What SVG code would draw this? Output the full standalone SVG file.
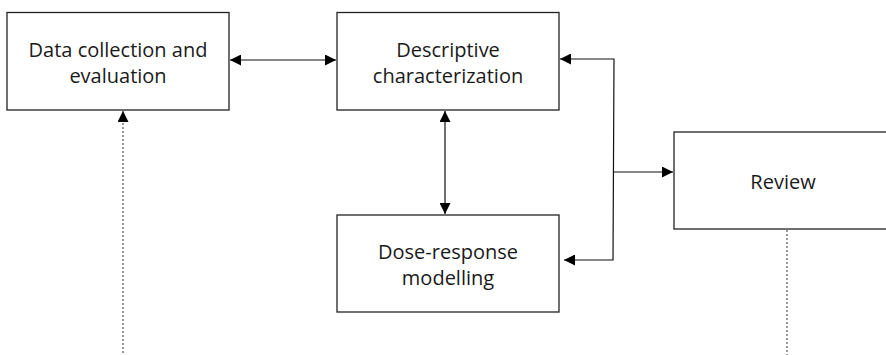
<svg xmlns="http://www.w3.org/2000/svg" width="886" height="355" viewBox="0 0 886 355">
<style>
.box{fill:#fff;stroke:#222;stroke-width:1.3}
.lbl{font-family:"Open Sans","Noto Sans",sans-serif;font-size:20px;fill:#1a1a1a;text-anchor:middle}
.con{fill:none;stroke:#111;stroke-width:1.2}
.dot{fill:none;stroke:#777;stroke-width:1.5;stroke-dasharray:2 2}
</style>
<defs>
<marker id="ah" viewBox="0 0 10 10" refX="10" refY="5" markerWidth="15" markerHeight="11" markerUnits="userSpaceOnUse" orient="auto-start-reverse">
<path d="M0,0 L10,5 L0,10 z" fill="#000"/>
</marker>
</defs>
<rect width="886" height="355" fill="#fff"/>
<g id="connectors">
<line class="con" x1="230" y1="60" x2="336" y2="60" marker-start="url(#ah)" marker-end="url(#ah)"/>
<line class="con" x1="445" y1="111" x2="445" y2="214" marker-start="url(#ah)" marker-end="url(#ah)"/>
<polyline class="con" points="560,59 614,59 613,260 564,260" marker-start="url(#ah)" marker-end="url(#ah)"/>
<line class="con" x1="614" y1="172" x2="673" y2="172" marker-end="url(#ah)"/>
<line class="dot" x1="123" y1="353" x2="123" y2="111" marker-end="url(#ah)"/>
<line class="dot" x1="787" y1="230" x2="787" y2="355"/>
</g>
<g id="data-collection">
<rect class="box" x="7" y="12.5" width="222" height="97.5"/>
<text class="lbl" x="118" y="57">Data collection and</text>
<text class="lbl" x="118" y="83">evaluation</text>
</g>
<g id="descriptive">
<rect class="box" x="337" y="12.5" width="222" height="97.5"/>
<text class="lbl" x="448" y="57">Descriptive</text>
<text class="lbl" x="448" y="83">characterization</text>
</g>
<g id="dose-response">
<rect class="box" x="337" y="215" width="222" height="97"/>
<text class="lbl" x="448" y="259">Dose-response</text>
<text class="lbl" x="448" y="285">modelling</text>
</g>
<g id="review">
<rect class="box" x="674" y="132" width="220" height="97"/>
<text class="lbl" x="783" y="189">Review</text>
</g>
</svg>
